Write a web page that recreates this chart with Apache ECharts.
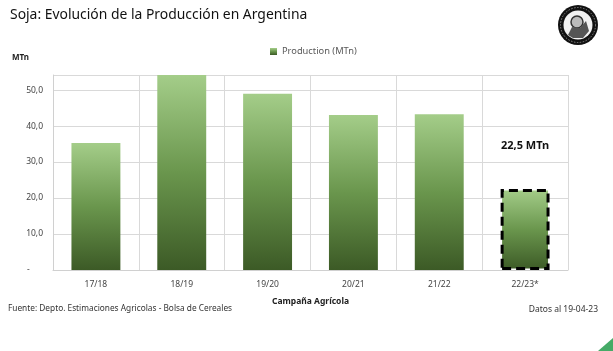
<!DOCTYPE html>
<html>
<head>
    <meta charset="utf-8">
    <title>Soja: Evolución de la Producción en Argentina</title>
    <script src="https://cdn.jsdelivr.net/npm/echarts@6.0.0/dist/echarts.min.js"></script>
    <style>
        html, body {
            margin: 0;
            padding: 0;
            background: #fff;
        }

        #chart {
            width: 613px;
            height: 351px;
        }
    </style>
</head>
<body>
<div id="chart"></div>
<script>
    // datos del gráfico
    var campanias = ['17/18', '18/19', '19/20', '20/21', '21/22', '22/23*'];
    var produccion = [35.3, 55.3, 49.0, 43.1, 43.3, 22.5];
    var serieNombre = 'Production (MTn)';
    var yTicks = [0, 10, 20, 30, 40, 50];

    var fuente = 'Noto Sans';

    function coma(v) {
        return v.toFixed(1).replace('.', ',');
    }

    var barras = produccion.map(function (v, i) {
        if (i === produccion.length - 1) {
            // estimación de la campaña actual: borde punteado y etiqueta
            return {
                value: v,
                itemStyle: {
                    borderColor: '#000',
                    borderWidth: 3,
                    borderType: [9, 5]
                },
                label: {
                    show: true,
                    position: 'top',
                    distance: 38,
                    formatter: function (p) { return coma(p.value) + ' MTn'; },
                    fontFamily: fuente,
                    fontWeight: 'bold',
                    fontSize: 11,
                    color: '#111'
                }
            };
        }
        return v;
    });

    var chart = echarts.init(document.getElementById('chart'));

    var option = {
        animation: false,
        textStyle: { fontFamily: fuente },
        grid: { left: 53, right: 45, top: 75, bottom: 81 },
        legend: {
            data: [serieNombre],
            top: 42,
            left: 265,
            itemWidth: 7,
            itemHeight: 7,
            itemGap: 3,
            icon: 'rect',
            textStyle: { fontSize: 9.3, color: '#595959', fontFamily: fuente }
        },
        xAxis: {
            type: 'category',
            data: campanias,
            name: 'Campaña Agrícola',
            nameLocation: 'middle',
            nameGap: 27,
            nameTextStyle: { fontSize: 8.5, fontWeight: 'bold', color: '#222' },
            axisLine: { lineStyle: { color: '#d0d0d0' } },
            axisTick: { show: false },
            axisLabel: { fontSize: 8.5, color: '#444', margin: 10 },
            splitLine: { show: true, lineStyle: { color: '#d9d9d9' } }
        },
        yAxis: {
            type: 'value',
            min: 0,
            max: 54.2,
            interval: 10,
            axisLine: { show: true, lineStyle: { color: '#d0d0d0' } },
            axisTick: { show: false },
            axisLabel: {
                showMaxLabel: false,
                fontSize: 8.5,
                color: '#444',
                margin: 10,
                formatter: function (v) { return v === 0 ? '-      ' : coma(v); }
            },
            splitLine: { lineStyle: { color: '#d9d9d9' } }
        },
        series: [{
            name: serieNombre,
            type: 'bar',
            data: barras,
            barWidth: '57%',
            clip: true,
            itemStyle: {
                color: new echarts.graphic.LinearGradient(0, 0, 0, 1, [
                    { offset: 0, color: '#a4cd89' },
                    { offset: 0.5, color: '#6a964d' },
                    { offset: 1, color: '#3c5a26' }
                ])
            }
        }],
        graphic: [
            {
                type: 'text', left: 10, top: 8,
                style: { text: 'Soja: Evolución de la Producción en Argentina', fontFamily: fuente, fontSize: 13.9, fill: '#111' }
            },
            {
                type: 'text', left: 12, top: 54,
                style: { text: 'MTn', fontFamily: fuente, fontSize: 8, fontWeight: 'bold', fill: '#222' }
            },
            {
                type: 'text', left: 8, top: 305,
                style: { text: 'Fuente: Depto. Estimaciones Agricolas - Bolsa de Cereales', fontFamily: fuente, fontSize: 8.3, fill: '#333' }
            },
            {
                type: 'text', right: 15, top: 305,
                style: { text: 'Datos al 19-04-23', fontFamily: fuente, fontSize: 8.5, fill: '#333' }
            },
            // logo
            {
                type: 'group', left: 558, top: 5,
                children: [
                    { type: 'circle', shape: { cx: 20, cy: 20, r: 20 }, style: { fill: '#111' } },
                    { type: 'circle', shape: { cx: 20, cy: 20, r: 14.5 }, style: { fill: '#f2f2f2' } },
                    { type: 'circle', shape: { cx: 19, cy: 17, r: 6 }, style: { fill: '#bbb', stroke: '#333', lineWidth: 1.5 } },
                    { type: 'polygon', shape: { points: [[10, 30], [14, 22], [22, 23], [28, 16], [31, 26], [25, 33], [15, 33]] }, style: { fill: '#555' } },
                    { type: 'circle', shape: { cx: 20, cy: 20, r: 17.5 }, style: { fill: 'none', stroke: '#888', lineWidth: 1, lineDash: [1.5, 1.5] } }
                ]
            },
            // esquina verde
            {
                type: 'polygon',
                shape: { points: [[613, 338], [613, 351], [598, 351]] },
                style: { fill: '#45ab67' }
            }
        ]
    };

    chart.setOption(option);
</script>
</body>
</html>
